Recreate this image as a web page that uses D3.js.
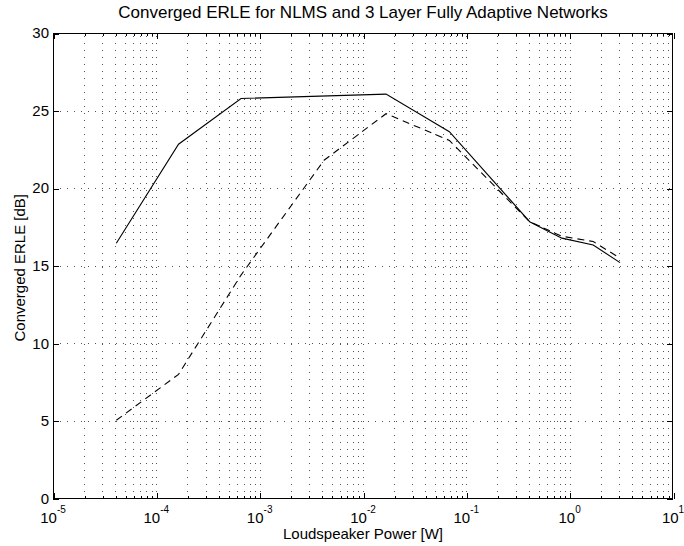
<!DOCTYPE html>
<html>
<head>
<meta charset="utf-8">
<script src="https://cdn.jsdelivr.net/npm/d3@7"></script>
<style>
  html, body { margin: 0; padding: 0; background: #fff; }
  svg { display: block; font-family: "Liberation Sans", Arial, Helvetica, sans-serif; }
</style>
</head>
<body>
<svg id="chart" width="684" height="546"></svg>
<script>
// ---- data ----
const titleText = "Converged ERLE for NLMS and 3 Layer Fully Adaptive Networks";
const xLabelText = "Loudspeaker Power [W]";
const yLabelText = "Converged ERLE [dB]";

const nlmsPower = [4.1e-5, 1.64e-4, 6.6e-4, 1.67e-2, 6.85e-2, 0.41, 0.84, 1.69, 3.07];
const nlmsErle  = [16.45, 22.83, 25.78, 26.06, 23.64, 17.84, 16.78, 16.34, 15.2];

const netPower = [4.1e-5, 1.64e-4, 6.6e-4, 4.2e-3, 1.67e-2, 6.85e-2, 0.41, 0.84, 1.69, 3.07];
const netErle  = [5.04, 8.0, 14.4, 21.8, 24.8, 23.08, 17.84, 16.9, 16.56, 15.49];

const xDecades = [-5, -4, -3, -2, -1, 0, 1];
const yTicks = [0, 5, 10, 15, 20, 25, 30];

// ---- layout ----
const L = 53, R = 673, T = 33, B = 498.5;
const svg = d3.select("#chart");

const x = d3.scaleLog().domain([1e-5, 1e1]).range([L, R]);
const y = d3.scaleLinear().domain([0, 30]).range([B, T]);

const px = v => Math.round(v) + 0.5;

// minor positions
const minorX = [];
xDecades.slice(0, -1).forEach(d => {
  for (let m = 2; m <= 9; m++) minorX.push(m * Math.pow(10, d));
});
const majorX = xDecades.map(d => Math.pow(10, d));

// ---- grid ----
const grid = svg.append("g").attr("stroke", "#555").attr("stroke-width", 1)
  .attr("stroke-dasharray", "1,6").attr("shape-rendering", "crispEdges");
grid.selectAll("line.gx").data(majorX.concat(minorX).filter(v => v > 1e-5 && v < 1e1))
  .join("line").attr("class", "gx")
  .attr("x1", d => px(x(d))).attr("x2", d => px(x(d)))
  .attr("y1", B).attr("y2", T);
grid.selectAll("line.gy").data(yTicks.filter(v => v > 0 && v < 30))
  .join("line").attr("class", "gy")
  .attr("y1", d => px(y(d))).attr("y2", d => px(y(d)))
  .attr("x1", L).attr("x2", R);

// ---- axes with inward ticks (bottom/top/left/right) ----
const fmtNone = () => "";
const axB = d3.axisBottom(x).tickValues(majorX).tickSize(-6).tickFormat(fmtNone);
const axBm = d3.axisBottom(x).tickValues(minorX).tickSize(-3).tickFormat(fmtNone);
const axT = d3.axisTop(x).tickValues(majorX).tickSize(-6).tickFormat(fmtNone);
const axTm = d3.axisTop(x).tickValues(minorX).tickSize(-3).tickFormat(fmtNone);
const axL = d3.axisLeft(y).tickValues(yTicks).tickSize(-6).tickFormat(fmtNone);
const axR = d3.axisRight(y).tickValues(yTicks).tickSize(-6).tickFormat(fmtNone);

function styleAxis(g) {
  g.selectAll("path.domain").remove();
  g.selectAll("line").attr("stroke", "#000").attr("shape-rendering", "crispEdges");
}
svg.append("g").attr("transform", `translate(0.5,${Math.round(B)})`).call(axB).call(styleAxis);
svg.append("g").attr("transform", `translate(0.5,${Math.round(B)})`).call(axBm).call(styleAxis);
svg.append("g").attr("transform", `translate(0.5,${T})`).call(axT).call(styleAxis);
svg.append("g").attr("transform", `translate(0.5,${T})`).call(axTm).call(styleAxis);
svg.append("g").attr("transform", `translate(${L},0.5)`).call(axL).call(styleAxis);
svg.append("g").attr("transform", `translate(${R},0.5)`).call(axR).call(styleAxis);

// box
svg.append("rect")
  .attr("x", L + 0.5).attr("y", T + 0.5)
  .attr("width", R - L - 1).attr("height", Math.round(B) - T - 1)
  .attr("fill", "none").attr("stroke", "#000").attr("stroke-width", 1)
  .attr("shape-rendering", "crispEdges");

// ---- tick labels ----
const tl = svg.append("g").attr("font-size", 15).attr("fill", "#000");
yTicks.forEach(v => {
  tl.append("text").attr("x", L - 4).attr("y", y(v)).attr("dy", "0.35em")
    .attr("text-anchor", "end").text(v);
});
xDecades.forEach(d => {
  const t = tl.append("text").attr("x", x(Math.pow(10, d))).attr("y", 522.5)
    .attr("text-anchor", "middle");
  t.append("tspan").text("10");
  t.append("tspan").attr("font-size", 10).attr("dy", -9.5).text(d);
});

// ---- data lines ----
const line = d3.line().x(d => x(d[0])).y(d => y(d[1]));
svg.append("path")
  .datum(d3.zip(nlmsPower, nlmsErle))
  .attr("d", line).attr("fill", "none").attr("stroke", "#000").attr("stroke-width", 1.1);
svg.append("path")
  .datum(d3.zip(netPower, netErle))
  .attr("d", line).attr("fill", "none").attr("stroke", "#000").attr("stroke-width", 1.1)
  .attr("stroke-dasharray", "7,5");

// ---- titles ----
svg.append("text").attr("x", (L + R) / 2).attr("y", 18).attr("text-anchor", "middle")
  .attr("font-size", 17).text(titleText);
svg.append("text").attr("x", (L + R) / 2).attr("y", 539).attr("text-anchor", "middle")
  .attr("font-size", 15).text(xLabelText);
svg.append("text").attr("transform", `translate(24.5,${(T + B) / 2 + 2}) rotate(-90)`)
  .attr("text-anchor", "middle").attr("font-size", 15).text(yLabelText);
</script>
</body>
</html>
